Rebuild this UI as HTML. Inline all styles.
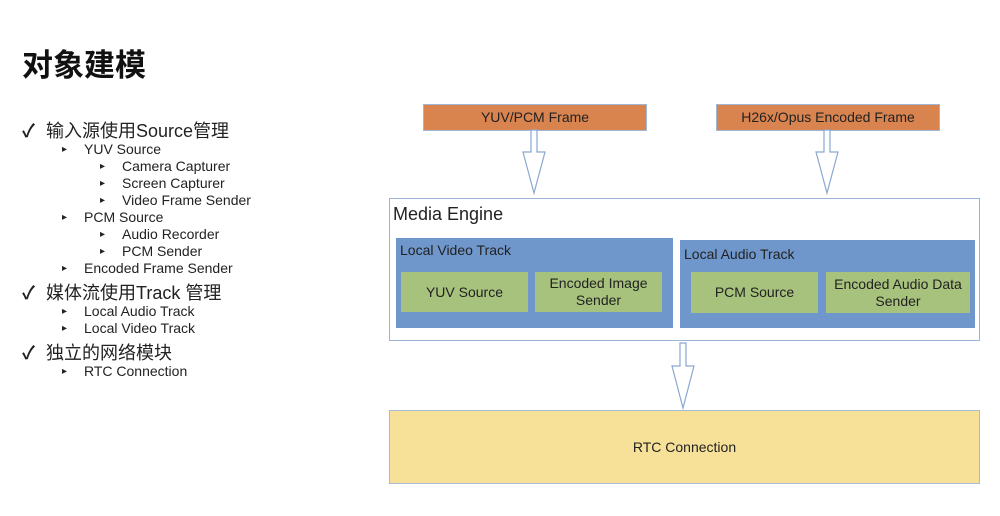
<!DOCTYPE html>
<html><head><meta charset="utf-8"><style>
body{margin:0;width:1000px;height:516px;background:#fff;position:relative;overflow:hidden;font-family:"Liberation Sans","Noto Sans CJK SC",sans-serif;color:#222}
.a{position:absolute}
.t{position:absolute;white-space:nowrap}
.box{position:absolute;display:flex;align-items:center;justify-content:center;text-align:center;font-size:14px;color:#222;line-height:17px}
.l1{font-size:18px}
.l2{font-size:14px}
.b{font-size:10px}
</style></head><body>
<div class="t" style="left:22px;top:40px;font-size:31px;font-weight:bold;color:#111">对象建模</div>

<div class="t l1" style="left:22px;top:117px;font-weight:bold">✓</div><div class="t l1" style="left:46px;top:117px">输入源使用Source管理</div>
<div class="t b" style="left:62px;top:144px">▸</div><div class="t l2" style="left:84px;top:141px">YUV Source</div>
<div class="t b" style="left:100px;top:161px">▸</div><div class="t l2" style="left:122px;top:158px">Camera Capturer</div>
<div class="t b" style="left:100px;top:178px">▸</div><div class="t l2" style="left:122px;top:175px">Screen Capturer</div>
<div class="t b" style="left:100px;top:195px">▸</div><div class="t l2" style="left:122px;top:192px">Video Frame Sender</div>
<div class="t b" style="left:62px;top:212px">▸</div><div class="t l2" style="left:84px;top:209px">PCM Source</div>
<div class="t b" style="left:100px;top:229px">▸</div><div class="t l2" style="left:122px;top:226px">Audio Recorder</div>
<div class="t b" style="left:100px;top:246px">▸</div><div class="t l2" style="left:122px;top:243px">PCM Sender</div>
<div class="t b" style="left:62px;top:263px">▸</div><div class="t l2" style="left:84px;top:260px">Encoded Frame Sender</div>
<div class="t l1" style="left:22px;top:279px;font-weight:bold">✓</div><div class="t l1" style="left:46px;top:279px">媒体流使用Track 管理</div>
<div class="t b" style="left:62px;top:306px">▸</div><div class="t l2" style="left:84px;top:303px">Local Audio Track</div>
<div class="t b" style="left:62px;top:323px">▸</div><div class="t l2" style="left:84px;top:320px">Local Video Track</div>
<div class="t l1" style="left:22px;top:339px;font-weight:bold">✓</div><div class="t l1" style="left:46px;top:339px">独立的网络模块</div>
<div class="t b" style="left:62px;top:366px">▸</div><div class="t l2" style="left:84px;top:363px">RTC Connection</div>

<div class="box" style="left:423px;top:104px;width:222px;height:25px;background:#d9834f;border:1px solid #9fb6d6">YUV/PCM Frame</div>
<div class="box" style="left:716px;top:104px;width:222px;height:25px;background:#d9834f;border:1px solid #9fb6d6">H26x/Opus Encoded Frame</div>

<div class="a" style="left:389px;top:198px;width:589px;height:141px;border:1px solid #9ab4d8;background:#fff"></div>
<div class="t" style="left:393px;top:204px;font-size:18px;color:#222">Media Engine</div>

<div class="a" style="left:396px;top:238px;width:277px;height:90px;background:#6f97cb"></div>
<div class="t" style="left:400px;top:242px;font-size:14px">Local Video Track</div>
<div class="a" style="left:680px;top:240px;width:295px;height:88px;background:#6f97cb"></div>
<div class="t" style="left:684px;top:246px;font-size:14px">Local Audio Track</div>

<div class="box" style="left:401px;top:272px;width:127px;height:40px;background:#a7c27c">YUV Source</div>
<div class="box" style="left:535px;top:272px;width:127px;height:40px;background:#a7c27c">Encoded Image<br>Sender</div>
<div class="box" style="left:691px;top:272px;width:127px;height:41px;background:#a7c27c">PCM Source</div>
<div class="box" style="left:826px;top:272px;width:144px;height:41px;background:#a7c27c">Encoded Audio Data<br>Sender</div>

<div class="box" style="left:389px;top:410px;width:589px;height:72px;background:#f7e199;border:1px solid #a9bcd6">RTC Connection</div>

<svg class="a" style="left:0;top:0" width="1000" height="516">
<g fill="#fff" stroke="#8aa8d0" stroke-width="1.2">
<polygon points="531,130 537,130 537,152 545,152 534,193 523,152 531,152"/>
<polygon points="824,130 830,130 830,152 838,152 827,193 816,152 824,152"/>
<polygon points="680,343 686,343 686,366 694,366 683,408 672,366 680,366"/>
</g>
</svg>
</body></html>
